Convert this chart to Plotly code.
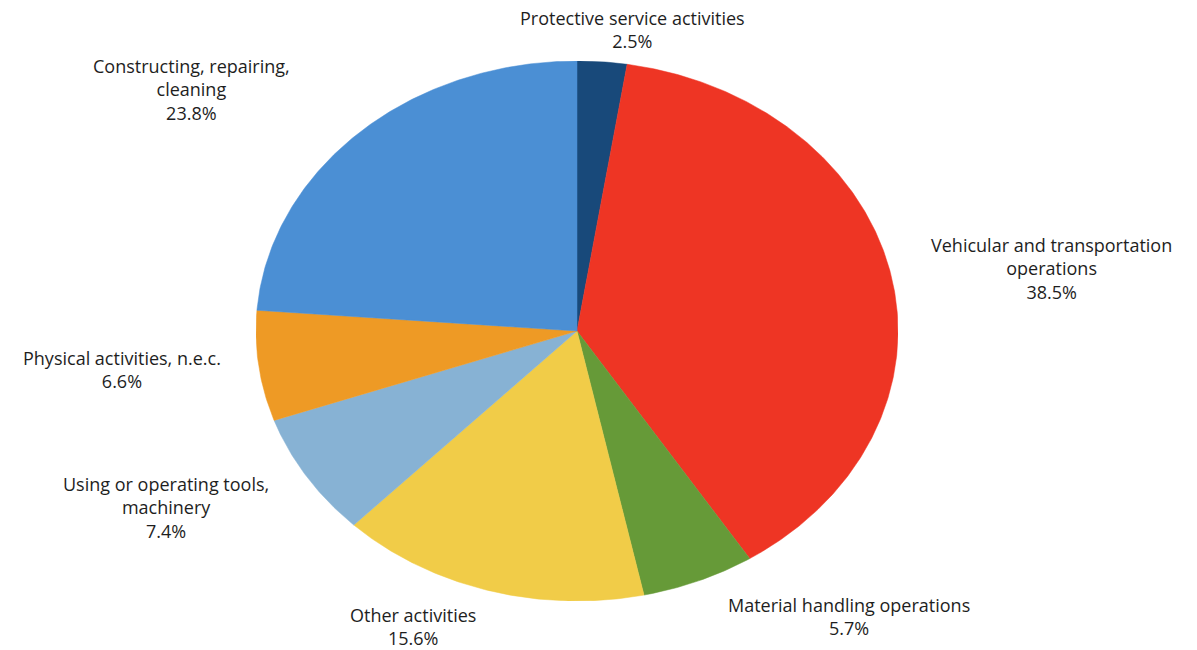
import numpy as np
import plotly.graph_objects as go

categories = ["Protective service activities", "Vehicular and transportation operations",
              "Material handling operations", "Other activities",
              "Using or operating tools, machinery", "Physical activities, n.e.c.",
              "Constructing, repairing, cleaning"]
label_text = ["Protective service activities", "Vehicular and transportation<br>operations",
              "Material handling operations", "Other activities",
              "Using or operating tools,<br>machinery", "Physical activities, n.e.c.",
              "Constructing, repairing,<br>cleaning"]
values = [2.5, 38.5, 5.7, 15.6, 7.4, 6.6, 23.8]
colors = ["#18497a", "#ee3524", "#669a38", "#f1cc48", "#87b2d4", "#ee9a25", "#4b8fd4"]
# label centre positions in axis units (layout)
label_pos = [(0.174, 1.116), (1.477, 0.233), (0.847, -1.056), (-0.511, -1.093),
             (-1.280, -0.652), (-1.417, -0.144), (-1.202, 0.896)]

total = sum(values)
fig = go.Figure()
start = 0.0
for cat, v, c in zip(categories, values, colors):
    end = start + v / total
    t = np.linspace(start, end, max(int((end - start) * 720), 4)) * 2 * np.pi
    xs = np.concatenate([[0], np.sin(t), [0]])
    ys = np.concatenate([[0], np.cos(t), [0]])
    fig.add_trace(go.Scatter(x=xs, y=ys, mode="lines", fill="toself", fillcolor=c,
                             line=dict(color=c, width=0.5), name=cat, hoverinfo="name",
                             showlegend=False))
    start = end

for txt, v, (lx, ly) in zip(label_text, values, label_pos):
    fig.add_annotation(x=(lx + 1) / 2, y=(ly + 1) / 2, xref="x domain", yref="y domain",
                       text=f"{txt}<br>{v:.1f}%", borderpad=0,
                       showarrow=False, xanchor="center", yanchor="middle",
                       font=dict(family="Open Sans", size=18, color="#1e1e1e"))

fig.update_layout(
    width=1197, height=650,
    margin=dict(l=248, r=307, t=53, b=57),
    paper_bgcolor="white", plot_bgcolor="white",
    xaxis=dict(range=[-1, 1], visible=False, fixedrange=True),
    yaxis=dict(range=[-1, 1], visible=False, fixedrange=True),
    showlegend=False,
)
fig.write_html("out.html")
